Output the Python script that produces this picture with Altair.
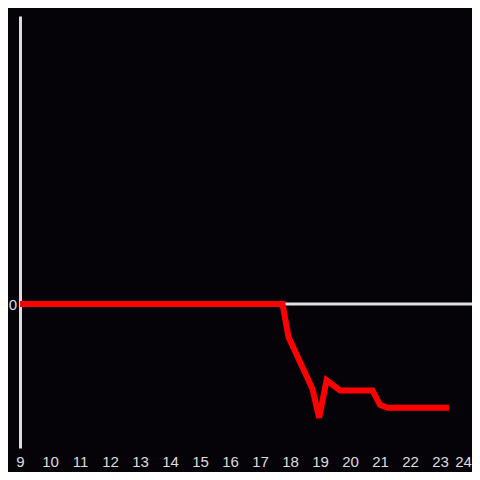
import altair as alt
import pandas as pd

hours = [9.0, 17.75, 17.95, 18.75, 18.97, 19.22, 19.67, 20.75, 21.0, 21.25, 23.3]
values = [0.0, 0.0, -0.23, -0.59, -0.79, -0.53, -0.60, -0.60, -0.70, -0.72, -0.72]
x_ticks = list(range(9, 25))

df = pd.DataFrame({"hour": hours, "value": values})

x = alt.X("hour:Q", scale=alt.Scale(domain=[9, 24], nice=False, zero=False),
          axis=alt.Axis(values=x_ticks, format="d", title=None, domain=False, ticks=False,
                        grid=False, labelColor="#dddddd", labelFontSize=15, labelFlush=False,
                        labelFont="Liberation Sans", labelPadding=6,
                        labelOffset={"expr": "datum.value == 24 ? -7 : 0"}))
y = alt.Y("value:Q", scale=alt.Scale(domain=[-1, 2], nice=False),
          axis=alt.Axis(values=[0], format="d", title=None, domain=True, domainColor="#dddddd",
                        domainWidth=3, ticks=False, tickSize=0, grid=False,
                        labelColor="#dddddd", labelFontSize=15, labelFont="Liberation Sans",
                        labelPadding=3.5, labelFlush=False))

zero = alt.Chart(pd.DataFrame({"z": [0]})).mark_rule(
    color="#e0e0e0", strokeWidth=3, clip=False).encode(
    y=alt.Y("z:Q", scale=alt.Scale(domain=[-1, 2], nice=False)),
    x=alt.value(0), x2=alt.value(460))

line = alt.Chart(df).mark_line(color="#ff0000", strokeWidth=6, strokeJoin="miter").encode(x=x, y=y)

chart = alt.layer(zero, line).properties(
    width=450, height=432, background="#050308",
    autosize=alt.AutoSizeParams(type="none"),
    padding={"left": 12, "top": 8, "right": 2, "bottom": 24},
).configure_view(stroke=None)

chart.save("out.html", embed_options={"renderer": "svg", "actions": False})
